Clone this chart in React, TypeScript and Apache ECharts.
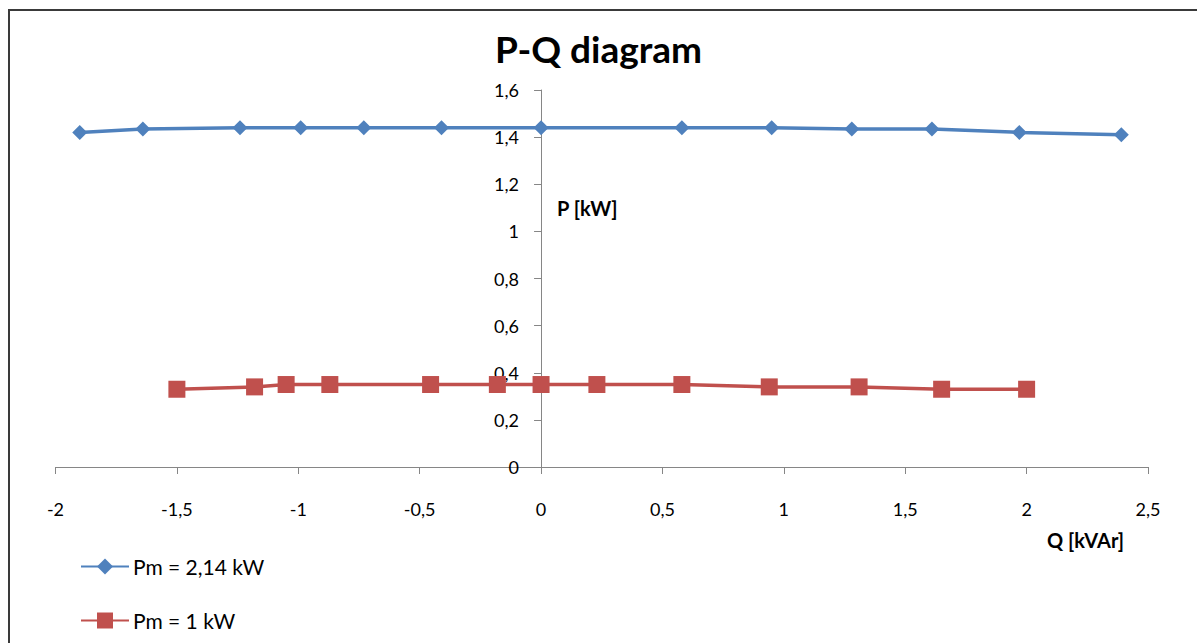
import React, { useEffect, useRef } from "react";
import * as echarts from "echarts";

const titleText = "P-Q diagram";
const xAxisName = "Q [kVAr]";
const yAxisName = "P [kW]";

const seriesNames = ["Pm = 2,14 kW", "Pm = 1 kW"];

const q214 = [-1.9, -1.64, -1.24, -0.99, -0.73, -0.41, 0, 0.58, 0.95, 1.28, 1.61, 1.97, 2.39];
const p214 = [1.42, 1.435, 1.44, 1.44, 1.44, 1.44, 1.44, 1.44, 1.44, 1.435, 1.435, 1.42, 1.41];

const q1 = [-1.5, -1.18, -1.05, -0.87, -0.455, -0.18, 0, 0.23, 0.58, 0.94, 1.31, 1.65, 2.0];
const p1 = [0.33, 0.34, 0.35, 0.35, 0.35, 0.35, 0.35, 0.35, 0.35, 0.34, 0.34, 0.33, 0.33];

const FONT = "Lato, 'Open Sans', sans-serif";
const fmt = (v: number) => String(Math.round(v * 10) / 10).replace(".", ",");

const GRID_LEFT = 55.5;
const GRID_RIGHT = 49;
const W = 1197;
const X_MIN = -2;
const X_MAX = 2.5;

export default function App() {
  const ref = useRef<HTMLDivElement>(null);
  useEffect(() => {
    if (!ref.current) return;
    const chart = echarts.init(ref.current, undefined, { renderer: "svg" });
    const plotW = W - GRID_LEFT - GRID_RIGHT;
    const zeroOffset = ((0 - X_MIN) / (X_MAX - X_MIN)) * plotW;
    chart.setOption({
      animation: false,
      backgroundColor: "#ffffff",
      textStyle: { fontFamily: FONT },
      title: {
        text: titleText,
        left: "center",
        top: 25,
        textStyle: { fontSize: 37, fontWeight: "bold", color: "#000", fontFamily: FONT },
      },
      grid: { left: GRID_LEFT, right: GRID_RIGHT, top: 90, bottom: 176 },
      xAxis: {
        type: "value",
        min: X_MIN,
        max: X_MAX,
        interval: 0.5,
        axisLine: { onZero: true, lineStyle: { color: "#868686", width: 1 } },
        axisTick: { show: true, length: 7, lineStyle: { color: "#868686" } },
        axisLabel: { margin: 33, fontSize: 18, color: "#000", fontFamily: FONT, formatter: fmt },
        splitLine: { show: false },
      },
      yAxis: {
        type: "value",
        min: 0,
        max: 1.6,
        interval: 0.2,
        offset: -zeroOffset,
        axisLine: { show: true, onZero: false, lineStyle: { color: "#868686", width: 1 } },
        axisTick: { show: true, length: 7, lineStyle: { color: "#868686" } },
        axisLabel: { margin: 22, fontSize: 18, color: "#000", fontFamily: FONT, formatter: fmt },
        splitLine: { show: false },
      },
      legend: {
        orient: "vertical",
        left: 80,
        top: 556,
        padding: 0,
        itemWidth: 48,
        itemHeight: 20,
        itemGap: 33,
        textStyle: { fontSize: 21, color: "#000", fontFamily: FONT, padding: [0, 0, 0, -1] },
        data: seriesNames,
      },
      series: [
        {
          name: seriesNames[0],
          type: "line",
          data: q214.map((q, i) => [q, p214[i]]),
          symbol: "diamond",
          symbolSize: 15,
          lineStyle: { color: "#4F81BD", width: 3.5 },
          itemStyle: { color: "#4F81BD" },
        },
        {
          name: seriesNames[1],
          type: "line",
          data: q1.map((q, i) => [q, p1[i]]),
          symbol: "rect",
          symbolSize: 17,
          lineStyle: { color: "#C0504D", width: 3.5 },
          itemStyle: { color: "#C0504D" },
        },
      ],
      graphic: [
        {
          type: "rect",
          shape: { x: 9, y: 10, width: 1300, height: 800 },
          style: { fill: "none", stroke: "#3a3a3a", lineWidth: 2 },
          silent: true,
        },
        {
          type: "text",
          left: 557,
          top: 198,
          style: { text: yAxisName, fontSize: 20, fontWeight: "bold", fill: "#000", fontFamily: FONT },
        },
        {
          type: "text",
          left: 1047,
          top: 530,
          style: { text: xAxisName, fontSize: 20, fontWeight: "bold", fill: "#000", fontFamily: FONT },
        },
      ],
    });
    return () => chart.dispose();
  }, []);
  return (
    <div
      ref={ref}
      style={{ position: "absolute", left: 0, top: 0, width: W, height: 643 }}
    />
  );
}
